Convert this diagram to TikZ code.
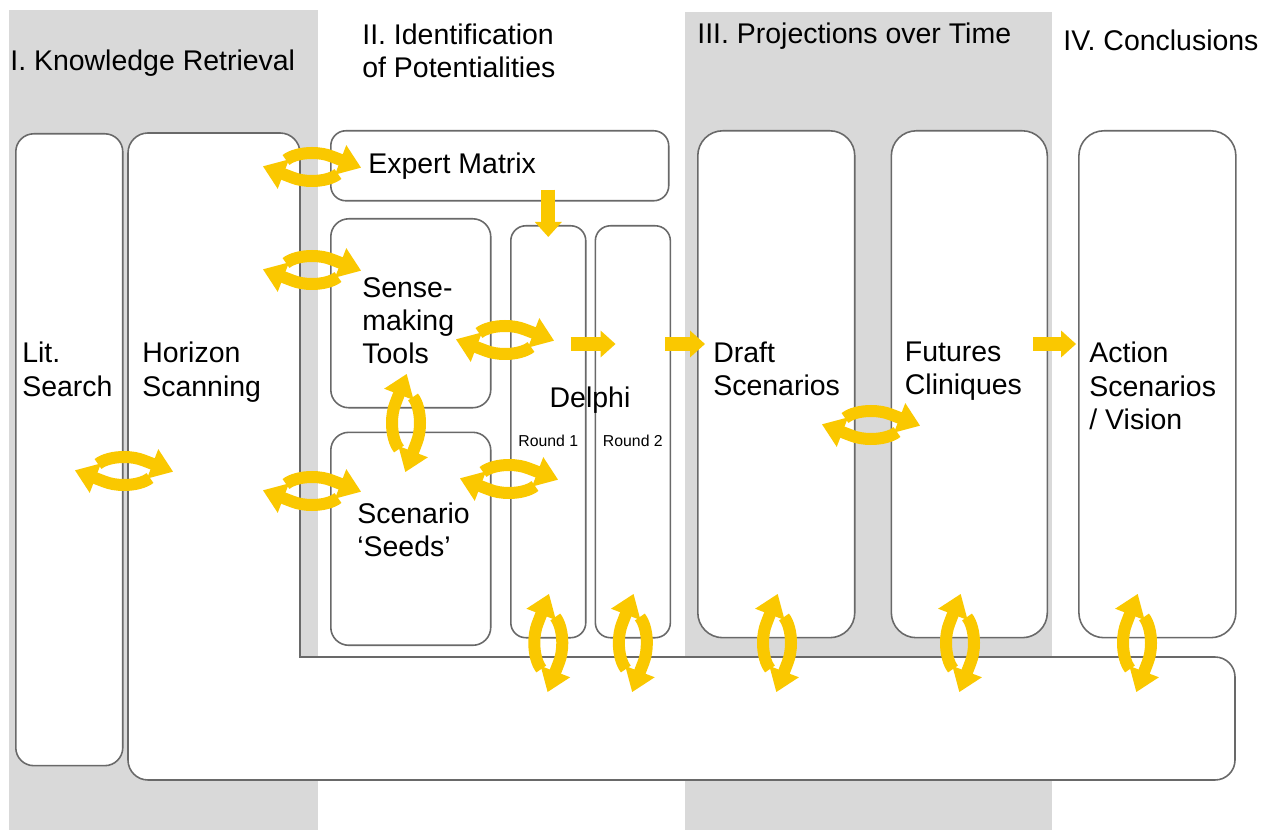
\documentclass[tikz,border=0pt]{standalone}
\usepackage{fontspec}
\setmainfont{Liberation Sans}
\usepackage{tikz}
\definecolor{bandgray}{RGB}{217,217,217}
\definecolor{edgegray}{RGB}{105,105,105}
\definecolor{loopyellow}{RGB}{250,200,0}
\usetikzlibrary{arrows.meta,positioning,calc}

\tikzset{
    turnarrow/.style={loopyellow, line width=0.24cm, -{Triangle[width=0.6cm,length=0.44cm]}},
    turnaround/.pic={
        \draw[turnarrow] (150:30 and 14) arc[start angle=150, end angle=50, x radius=30, y radius=14] -- ++(-21:32);
        \draw[turnarrow] (-30:30 and 14) arc[start angle=-30, end angle=-130, x radius=30, y radius=14] -- ++(159:32);
    }
}

\begin{document}
\begin{tikzpicture}[
    x=0.02cm, y=0.02cm,
    font=\fontsize{16.2}{18.8}\selectfont,
    box/.style={rectangle, draw=edgegray, line width=0.9pt, fill=white, rounded corners=0.36cm, inner sep=0pt, anchor=north west},
    boxtext/.style={anchor=north west, inner sep=0pt, align=left},
    headtext/.style={anchor=west, inner sep=0pt, align=left},
    roundtext/.style={inner sep=0pt, font=\fontsize{9}{10}\selectfont},
    blockarrow/.style={loopyellow, line width=0.28cm, -{Triangle[width=0.52cm,length=0.3cm]}}
]
\useasboundingbox (0,0) rectangle (1274,-830);

% phase bands
\fill[bandgray] (9,-10) rectangle (318,-830);
\fill[bandgray] (685,-12) rectangle (1052,-830);

\node[headtext] (phase1) at (10,-63) {I. Knowledge Retrieval};
\node[boxtext] (phase2) at (362,-24) {II. Identification\\of Potentialities};
\node[headtext] (phase3) at (697,-36) {III. Projections over Time};
\node[headtext] (phase4) at (1063,-40) {IV. Conclusions};

% horizon scanning runs along the bottom
\draw[draw=edgegray, line width=0.9pt, fill=white]
    (128,-450) [rounded corners=0.4cm] -- (128,-133) -- (300,-133) [sharp corners] -- (300,-657)
    [rounded corners=0.4cm] -- (1235,-657) -- (1235,-780) -- (128,-780) -- cycle;

\node[box, minimum width=2.14cm, minimum height=12.64cm] (lit) at (15,-133) {};
\node[box, minimum width=6.76cm, minimum height=1.4cm, rounded corners=0.3cm] (em) at (330,-130) {};
\node[box, minimum width=3.2cm, minimum height=3.78cm] (tools) at (330,-218) {};
\node[box, minimum width=3.2cm, minimum height=4.26cm, below=0.46cm of tools.south west, anchor=north west] (seeds) {};
\node[box, minimum width=1.5cm, minimum height=8.24cm, rounded corners=0.3cm] (r1) at (510,-225) {};
\node[box, minimum width=1.5cm, minimum height=8.24cm, rounded corners=0.3cm, right=0.16cm of r1.north east, anchor=north west] (r2) {};
\node[box, minimum width=3.14cm, minimum height=10.14cm, rounded corners=0.5cm] (draft) at (697,-130) {};
\node[box, minimum width=3.12cm, minimum height=10.14cm, rounded corners=0.5cm, right=0.7cm of draft.north east, anchor=north west] (fut) {};
\node[box, minimum width=3.14cm, minimum height=10.14cm, rounded corners=0.5cm, right=0.6cm of fut.north east, anchor=north west] (act) {};

\coordinate (textline) at (0,-342);
\coordinate (flowline) at (0,-344);

\node[boxtext] (littxt) at ([xshift=0.14cm]lit.west |- textline) {Lit.\\Search};
\node[boxtext] (hstxt) at (142,-342) {Horizon\\Scanning};
\node[headtext] (emtxt) at ([xshift=0.76cm]em.west) {Expert Matrix};
\node[boxtext] (toolstxt) at ([xshift=0.64cm,yshift=-1.18cm]tools.north west) {Sense-\\making\\Tools};
\node[boxtext] (seedstxt) at ([xshift=0.54cm,yshift=-1.42cm]seeds.north west) {Scenario\\‘Seeds’};
\node (delphi) at (590,-400) {Delphi};
\node[roundtext] (r1txt) at (r1.center |- 0,-441) {Round 1};
\node[roundtext] (r2txt) at (r2.center |- 0,-441) {Round 2};
\node[boxtext] (drafttxt) at ([xshift=0.32cm]draft.west |- textline) {Draft\\Scenarios};
\node[boxtext] (futtxt) at ([xshift=0.28cm]fut.west |- textline) {Futures\\Cliniques};
\node[boxtext] (acttxt) at ([xshift=0.22cm]act.west |- textline) {Action\\Scenarios\\/ Vision};

% flow arrows
\draw[blockarrow] ([yshift=0.24cm]em.south -| r1) -- ([yshift=-0.24cm]r1.north);
\draw[blockarrow] ([xshift=-0.32cm]r1.east |- flowline) -- ([xshift=0.42cm]r2.west |- flowline);
\draw[blockarrow] ([xshift=-0.12cm]r2.east |- flowline) -- ([xshift=0.16cm]draft.west |- flowline);
\draw[blockarrow] ([xshift=-0.3cm]fut.east |- flowline) -- ([xshift=-0.04cm]act.west |- flowline);

% feedback loops
\pic at (312,-167) {turnaround};
\pic at (312,-270) {turnaround};
\pic at (124,-471) {turnaround};
\pic at (312,-491) {turnaround};
\pic at (505,-340) {turnaround};
\pic at (509,-479) {turnaround};
\pic at (871,-425) {turnaround};
\pic[rotate=90] at (406,-423) {turnaround};
\pic[rotate=90] at (r1.center |- 0,-643) {turnaround};
\pic[rotate=90] at (r2.center |- 0,-643) {turnaround};
\pic[rotate=90] at (777,-643) {turnaround};
\pic[rotate=90] at (960,-643) {turnaround};
\pic[rotate=90] at (1137,-643) {turnaround};

\end{tikzpicture}
\end{document}
